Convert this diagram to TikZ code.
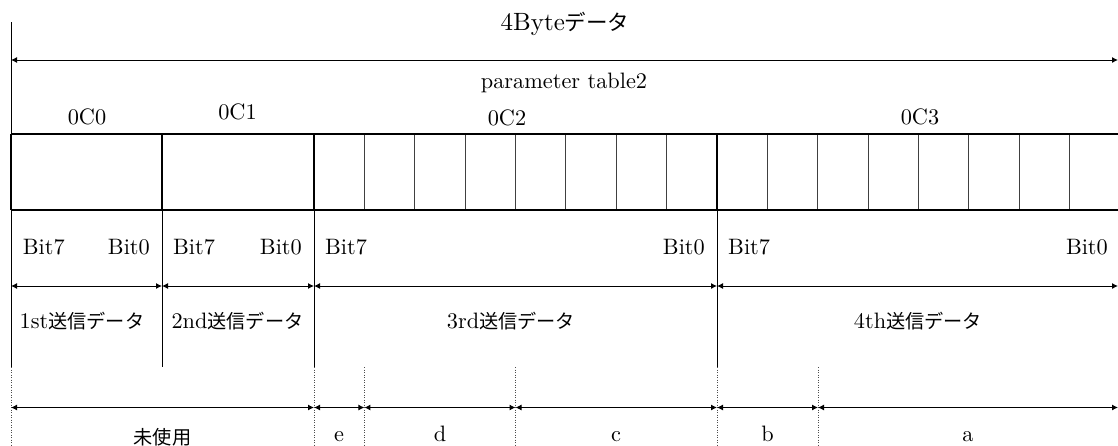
\documentclass[tikz,border=0pt]{standalone}
\usepackage{fontspec}
\setmainfont{lmroman10-regular.otf}
\newfontfamily\cjk[Scale=0.86]{Noto Sans CJK JP}
\usetikzlibrary{arrows.meta}
\begin{document}
\begin{tikzpicture}[x=1pt,y=-1pt,
  font=\fontsize{22.3}{26}\selectfont,
  txt/.style={inner sep=0pt, anchor=base},
  dimline/.style={line width=1pt, {Latex[length=6pt,width=6pt]}-{Latex[length=6pt,width=6pt]}},
  border/.style={line width=2pt},
  bitline/.style={line width=1pt, black!75},
  guide/.style={line width=1pt},
  dotguide/.style={line width=0.9pt, black!70, dash pattern=on 1pt off 1.5pt}]
\useasboundingbox (0,0) rectangle (1118,445);

% titles
\node[txt,font=\fontsize{25}{30}\selectfont] (title) at (565,30) {4Byte{\cjk データ}};
\node[txt] (ptab) at (564,88) {parameter table2};
\node[txt] (a0) at (87,124) {0C0};
\node[txt] (a1) at (237.5,119) {0C1};
\node[txt] (a2) at (507,125) {0C2};
\node[txt] (a3) at (920,124) {0C3};

% top arrow and left guide
\coordinate (lt) at (11,22);
\coordinate (lb) at (11,367);
\draw[guide] (lt) -- (lb);
\coordinate (tL) at (11,60);
\coordinate (tR) at (1118,60);
\draw[dimline] (tL) -- (tR);

% table
\foreach \i in {1,...,7}{
  \draw[bitline] ({314+\i*50.375},134) -- ({314+\i*50.375},210);
  \draw[bitline] ({717+\i*50.375},134) -- ({717+\i*50.375},210);
}
\draw[border] (11,134) -- (1118,134);
\draw[border] (11,210) -- (1118,210);
\foreach \x in {11,162,314,717}{
  \draw[border] (\x,134) -- (\x,210);
}

% guides below table
\foreach \x in {162,314,717}{
  \coordinate (g\x a) at (\x,210);
  \coordinate (g\x b) at (\x,367);
  \draw[guide] (g\x a) -- (g\x b);
}
\foreach \x in {11,314,364.4,515.5,717,818}{
  \draw[dotguide] (\x,367) -- (\x,445);
}

% bit labels
\node[txt,anchor=base west] (b7a) at (22.7,254) {Bit7};
\node[txt,anchor=base east] (b0a) at (150,254) {Bit0};
\node[txt,anchor=base west] (b7b) at (173,254) {Bit7};
\node[txt,anchor=base east] (b0b) at (302,254) {Bit0};
\node[txt,anchor=base west] (b7c) at (325,254) {Bit7};
\node[txt,anchor=base east] (b0c) at (705,254) {Bit0};
\node[txt,anchor=base west] (b7d) at (728,254) {Bit7};
\node[txt,anchor=base east] (b0d) at (1108,254) {Bit0};

% byte arrows
\coordinate (r0) at (11,286);
\coordinate (r1) at (162,286);
\coordinate (r2) at (314,286);
\coordinate (r3) at (717,286);
\coordinate (r4) at (1118,286);
\draw[dimline] (r0) -- (r1);
\draw[dimline] (r1) -- (r2);
\draw[dimline] (r2) -- (r3);
\draw[dimline] (r3) -- (r4);
\node[txt] (d1) at (82,328) {1st{\cjk 送信データ}};
\node[txt] (d2) at (237.5,328) {2nd{\cjk 送信データ}};
\node[txt] (d3) at (511,328) {3rd{\cjk 送信データ}};
\node[txt] (d4) at (918,328) {4th{\cjk 送信データ}};

% field arrows
\coordinate (s0) at (11,407.5);
\coordinate (s1) at (314,407.5);
\coordinate (s2) at (364.4,407.5);
\coordinate (s3) at (515.5,407.5);
\coordinate (s4) at (717,407.5);
\coordinate (s5) at (818,407.5);
\coordinate (s6) at (1118,407.5);
\draw[dimline] (s0) -- (s1);
\draw[dimline] (s1) -- (s2);
\draw[dimline] (s2) -- (s3);
\draw[dimline] (s3) -- (s4);
\draw[dimline] (s4) -- (s5);
\draw[dimline] (s5) -- (s6);
\node[txt] (fu) at (162.5,444) {\cjk 未使用};
\node[txt] (fe) at (339,441) {e};
\node[txt] (fd) at (440,441) {d};
\node[txt] (fc) at (616,441) {c};
\node[txt] (fb) at (767.5,441) {b};
\node[txt] (fa) at (968,441) {a};
\end{tikzpicture}
\end{document}
